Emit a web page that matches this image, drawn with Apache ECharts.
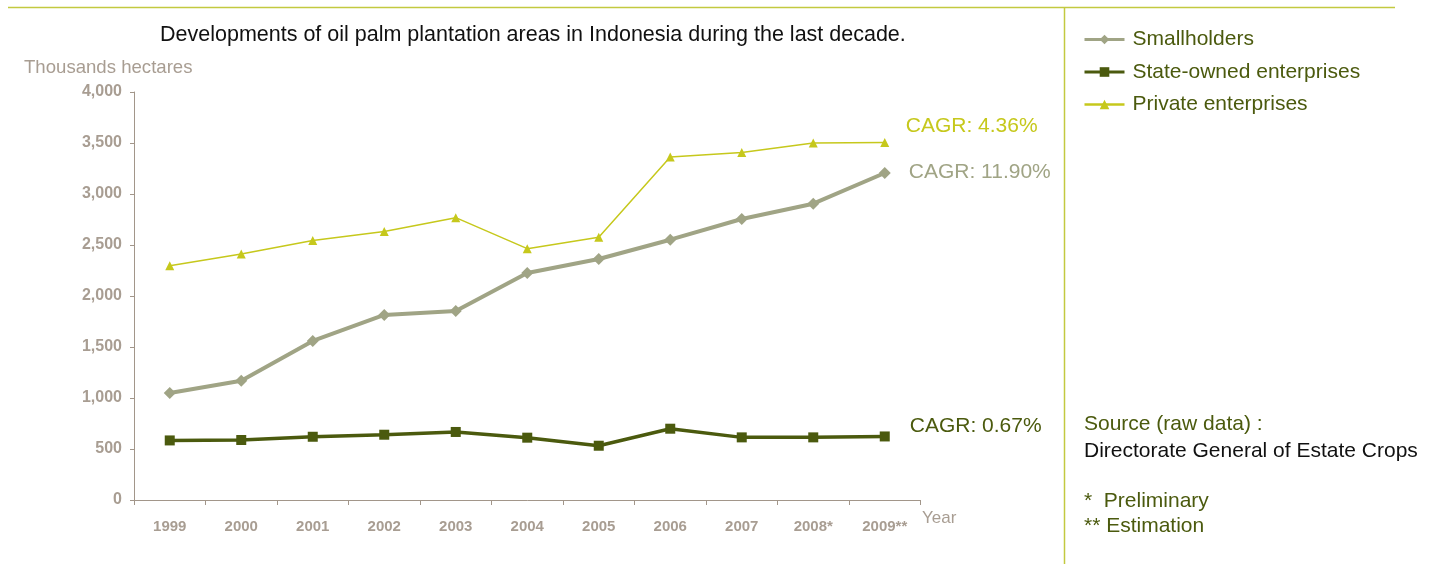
<!DOCTYPE html>
<html>
<head>
<meta charset="utf-8">
<title>Oil palm plantation areas in Indonesia</title>
<script src="https://cdn.jsdelivr.net/npm/echarts@6/dist/echarts.min.js"></script>
<style>
  html, body { margin: 0; padding: 0; background: #ffffff; }
  #chart { width: 1440px; height: 564px; }
</style>
</head>
<body>
<div id="chart"></div>
<script>
// Plantation area, thousands of hectares
const years = ['1999', '2000', '2001', '2002', '2003', '2004', '2005', '2006', '2007', '2008*', '2009**'];
const smallholders = [1049, 1170, 1559, 1814, 1853, 2225, 2363, 2552, 2755, 2905, 3206];
const stateOwned = [584, 588, 620, 640, 667, 611, 532, 699, 614, 614, 623];
const privateEnt = [2297, 2412, 2545, 2633, 2768, 2464, 2575, 3363, 3408, 3500, 3506];

const seriesNames = ['Smallholders', 'State-owned enterprises', 'Private enterprises'];
const cagrLabels = ['CAGR: 11.90%', 'CAGR: 0.67%', 'CAGR: 4.36%'];
const yTicks = [0, 500, 1000, 1500, 2000, 2500, 3000, 3500, 4000];

const FONT = '"Liberation Sans", Arial, Helvetica, sans-serif';
const AXIS_GREY = '#a2968a';
const LABEL_GREY = '#a89d92';
const OLIVE = '#4b5a0e';
const FRAME = '#c3c940';
const SMALL_C = '#a0a485';
const PRIV_C = '#c6c81c';

const chart = echarts.init(document.getElementById('chart'), null, { renderer: 'canvas' });

const option = {
  backgroundColor: '#ffffff',
  animation: false,
  textStyle: { fontFamily: FONT },
  title: {
    text: 'Developments of oil palm plantation areas in Indonesia during the last decade.',
    left: 155,
    top: 19,
    textStyle: { fontFamily: FONT, fontSize: 21.5, fontWeight: 'normal', color: '#111111' }
  },
  legend: {
    orient: 'vertical',
    left: 1078,
    top: 24,
    itemWidth: 40,
    itemHeight: 12,
    itemGap: 11.5,
    data: [
      { name: seriesNames[0], lineStyle: { width: 3 } },
      { name: seriesNames[1], lineStyle: { width: 3 } },
      { name: seriesNames[2], lineStyle: { width: 2.5 } }
    ],
    textStyle: { fontFamily: FONT, fontSize: 21, color: OLIVE, padding: [0, 0, 0, 3] }
  },
  grid: { left: 134, top: 92, width: 786.5, height: 408 },
  xAxis: {
    type: 'category',
    data: years,
    boundaryGap: true,
    axisLine: { lineStyle: { color: AXIS_GREY, width: 1 } },
    axisTick: { show: true, length: 5, alignWithLabel: false, lineStyle: { color: AXIS_GREY } },
    axisLabel: { margin: 19, fontFamily: FONT, fontSize: 15, fontWeight: 'bold', color: LABEL_GREY },
    splitLine: { show: false }
  },
  yAxis: {
    type: 'value',
    min: yTicks[0],
    max: yTicks[yTicks.length - 1],
    interval: 500,
    axisLine: { show: true, lineStyle: { color: AXIS_GREY, width: 1 } },
    axisTick: { show: true, length: 4, lineStyle: { color: AXIS_GREY } },
    axisLabel: {
      margin: 12,
      fontFamily: FONT, fontSize: 16, fontWeight: 'bold', color: LABEL_GREY,
      padding: [3, 0, 0, 0],
      formatter: v => v.toLocaleString('en-US')
    },
    splitLine: { show: false }
  },
  series: [
    {
      name: seriesNames[0],
      type: 'line',
      data: smallholders,
      symbol: 'diamond',
      symbolSize: 12,
      itemStyle: { color: SMALL_C },
      lineStyle: { color: SMALL_C, width: 4 },
      z: 3,
      endLabel: {
        show: true,
        formatter: cagrLabels[0],
        distance: 24,
        offset: [0, -1],
        fontFamily: FONT, fontSize: 21, color: SMALL_C
      }
    },
    {
      name: seriesNames[1],
      type: 'line',
      data: stateOwned,
      symbol: 'rect',
      symbolSize: 10,
      itemStyle: { color: OLIVE },
      lineStyle: { color: OLIVE, width: 3.5 },
      z: 4,
      endLabel: {
        show: true,
        formatter: cagrLabels[1],
        distance: 25,
        offset: [0, -10],
        fontFamily: FONT, fontSize: 21, color: OLIVE
      }
    },
    {
      name: seriesNames[2],
      type: 'line',
      data: privateEnt,
      symbol: 'triangle',
      symbolSize: 9,
      itemStyle: { color: PRIV_C },
      lineStyle: { color: PRIV_C, width: 1.5 },
      z: 2,
      endLabel: {
        show: true,
        formatter: cagrLabels[2],
        distance: 21,
        offset: [0, -16],
        fontFamily: FONT, fontSize: 21, color: PRIV_C
      }
    }
  ],
  graphic: [
    // frame rules
    { type: 'line', shape: { x1: 8, y1: 7.5, x2: 1395, y2: 7.5 }, style: { stroke: FRAME, lineWidth: 1.5 }, silent: true },
    { type: 'line', shape: { x1: 1064.5, y1: 7, x2: 1064.5, y2: 564 }, style: { stroke: FRAME, lineWidth: 1.5 }, silent: true },
    // axis captions
    { type: 'text', left: 24, top: 58, style: { text: 'Thousands hectares', font: '18.6px ' + FONT, fill: LABEL_GREY } },
    { type: 'text', left: 922, top: 510, style: { text: 'Year', font: '17px ' + FONT, fill: LABEL_GREY } },
    // source and footnotes
    { type: 'text', left: 1084, top: 414, style: { text: 'Source (raw data) :', font: '21px ' + FONT, fill: OLIVE } },
    { type: 'text', left: 1084, top: 441, style: { text: 'Directorate General of Estate Crops', font: '21px ' + FONT, fill: '#111111' } },
    { type: 'text', left: 1084, top: 491, style: { text: '*  Preliminary', font: '21px ' + FONT, fill: OLIVE } },
    { type: 'text', left: 1084, top: 516, style: { text: '** Estimation', font: '21px ' + FONT, fill: OLIVE } }
  ]
};

chart.setOption(option);
</script>
</body>
</html>
